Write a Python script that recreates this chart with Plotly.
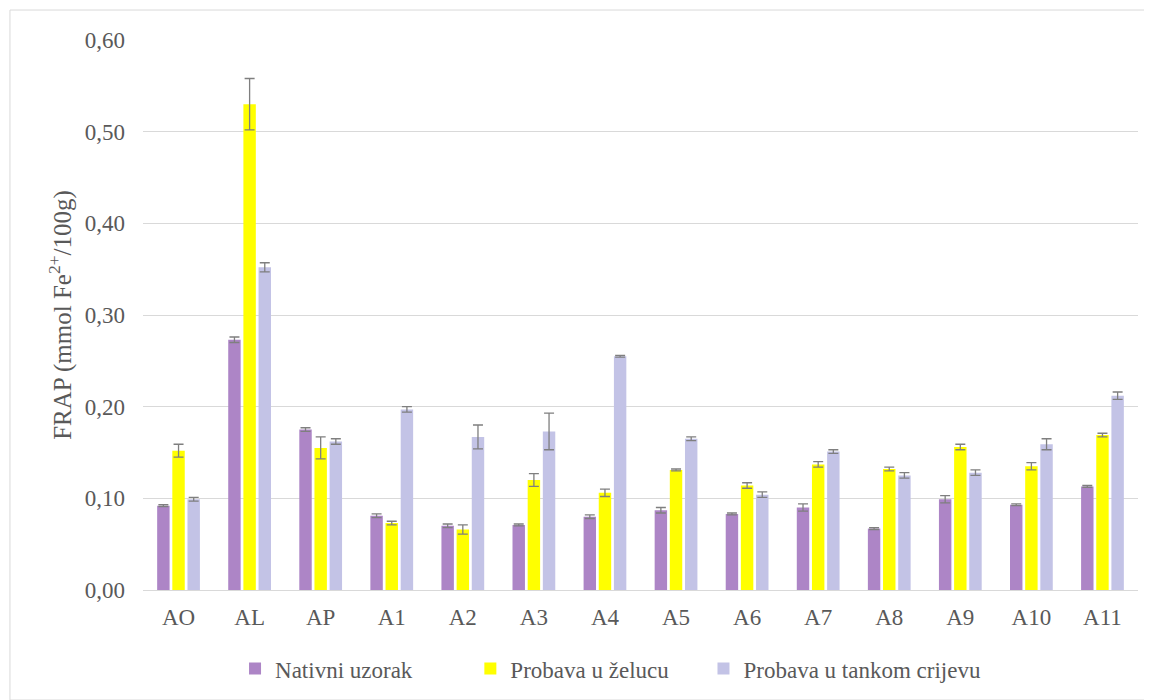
import plotly.graph_objects as go

categories = ["AO", "AL", "AP", "A1", "A2", "A3", "A4", "A5", "A6", "A7", "A8", "A9", "A10", "A11"]
nativni = [0.092, 0.273, 0.175, 0.081, 0.070, 0.071, 0.080, 0.087, 0.083, 0.090, 0.067, 0.099, 0.093, 0.113]
nativni_err = [0.001, 0.003, 0.002, 0.002, 0.002, 0.001, 0.002, 0.003, 0.001, 0.004, 0.001, 0.004, 0.001, 0.001]
zeludac = [0.152, 0.530, 0.155, 0.073, 0.066, 0.120, 0.106, 0.131, 0.114, 0.137, 0.132, 0.156, 0.135, 0.169]
zeludac_err = [0.007, 0.028, 0.012, 0.002, 0.005, 0.007, 0.004, 0.001, 0.003, 0.003, 0.002, 0.003, 0.004, 0.002]
crijevo = [0.099, 0.352, 0.162, 0.197, 0.167, 0.173, 0.255, 0.165, 0.104, 0.151, 0.125, 0.128, 0.159, 0.212]
crijevo_err = [0.002, 0.005, 0.003, 0.003, 0.013, 0.020, 0.001, 0.002, 0.003, 0.002, 0.003, 0.003, 0.006, 0.004]

names = ["Nativni uzorak", "Probava u želucu", "Probava u tankom crijevu"]
colors = ["#AD85C6", "#FFFF00", "#C3C3E6"]
legend_ids = ["legend", "legend2", "legend3"]
legend_x = [0.0925, 0.329, 0.5633]

font_family = "Liberation Serif, Times New Roman, serif"
txt = "#595959"

fig = go.Figure()
for name, vals, errs, col, lid in zip(names, [nativni, zeludac, crijevo],
                                      [nativni_err, zeludac_err, crijevo_err], colors, legend_ids):
    fig.add_trace(go.Bar(
        x=categories, y=vals, name=name, marker_color=col,
        marker_line_width=0, legend=lid, showlegend=True,
        error_y=dict(type="data", array=errs, visible=True,
                     color="#7F7F7F", thickness=1.3, width=5),
    ))

legend_common = dict(orientation="h", xanchor="left", y=-0.143, yanchor="middle",
                     font=dict(family=font_family, size=23, color=txt), itemwidth=30,
                     bgcolor="rgba(0,0,0,0)")

fig.update_layout(
    width=1152, height=700,
    showlegend=True,
    barmode="group", bargap=0.36, bargroupgap=0.18,
    separators=",.",
    plot_bgcolor="white", paper_bgcolor="white",
    margin=dict(l=135, r=22, t=32, b=118),
    font=dict(family=font_family, color=txt, size=23),
    yaxis=dict(range=[0, 0.6], dtick=0.1, tickformat=".2f", automargin=False,
               showgrid=True, gridcolor="#D9D9D9", gridwidth=1.3,
               zeroline=True, zerolinecolor="#D9D9D9", zerolinewidth=1.3,
               ticks="", ticklen=0, ticklabelstandoff=17,
               tickfont=dict(family=font_family, size=23, color=txt),
               title=dict(text="FRAP (mmol Fe<sup>2+</sup>/100g)",
                          font=dict(family=font_family, size=25, color=txt), standoff=6)),
    xaxis=dict(showgrid=False, showline=True, linecolor="#D9D9D9", linewidth=1.3, automargin=False,
               ticklabelstandoff=6,
               tickfont=dict(family=font_family, size=23, color=txt), ticks=""),
    legend=dict(x=legend_x[0], **legend_common),
    legend2=dict(x=legend_x[1], **legend_common),
    legend3=dict(x=legend_x[2], **legend_common),
    shapes=[dict(type="rect", xref="paper", yref="paper",
                 x0=-0.1337, x1=1.0125, y0=-0.2, y1=1.0545,
                 line=dict(color="#D9D9D9", width=1), fillcolor="rgba(0,0,0,0)", layer="below")],
)

fig.write_html("out.html")
